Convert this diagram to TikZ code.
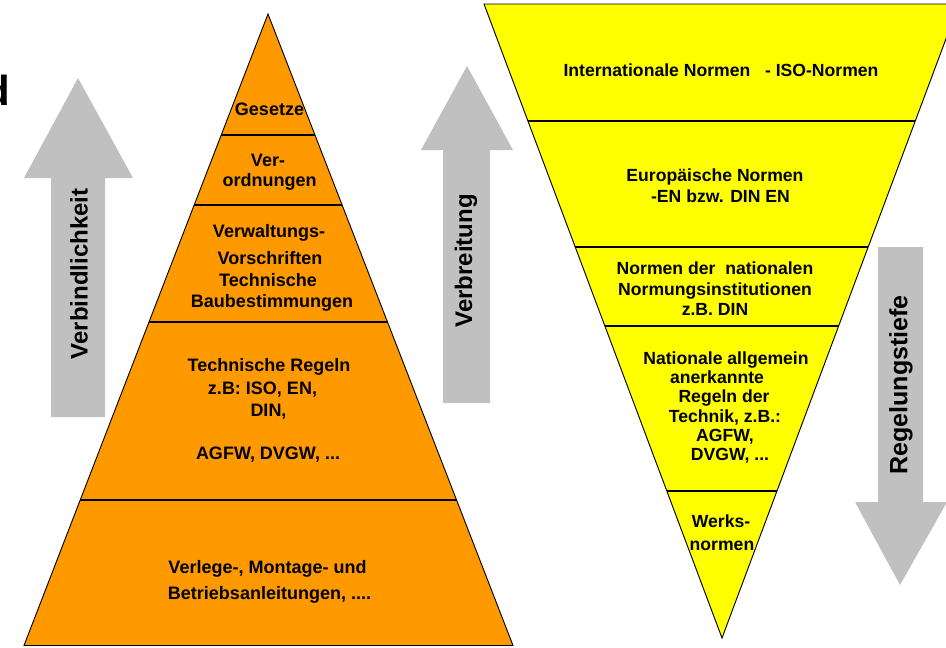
\documentclass[tikz,border=0pt]{standalone}
\usepackage{fontspec}
\setmainfont{Liberation Sans}
\usetikzlibrary{calc}
\definecolor{pyrorange}{HTML}{FF9900}
\definecolor{pyryellow}{HTML}{FFFF00}
\definecolor{arrowgray}{HTML}{C0C0C0}
\begin{document}
\begin{tikzpicture}[x=0.75pt,y=-0.75pt,
  lbl/.style={font=\fontsize{13.5}{15}\selectfont\bfseries, anchor=base, inner sep=0pt},
  rlbl/.style={font=\fontsize{13.2}{15}\selectfont\bfseries, anchor=base, inner sep=0pt},
  arrlbl/.style={font=\fontsize{18}{20}\selectfont\bfseries, rotate=90, inner sep=0pt},
  divline/.style={line width=1.6pt, draw=black},
  outline/.style={line width=0.7pt, draw=black},
  grayarrow/.style={fill=arrowgray, draw=none}]
\useasboundingbox (0,0) rectangle (946,647);
\clip (0,0) rectangle (946,647);

% cut-off letter at left edge
\node[font=\fontsize{31.5}{34}\selectfont\bfseries, anchor=base east, inner sep=0pt] (frag) at (10.5,105) {d};

% ---------- gray arrows ----------
\fill[grayarrow] (78,78) -- (133,178) -- (105,178) -- (105,417) -- (51,417) -- (51,178) -- (24,178) -- cycle;
\node[arrlbl] (verbind) at (79,274) {Verbindlichkeit};

\fill[grayarrow] (467,66) -- (513,150) -- (490,150) -- (490,403) -- (443,403) -- (443,150) -- (421,150) -- cycle;
\node[arrlbl] (verbreit) at (466,261) {Verbreitung};

\fill[grayarrow] (900,585) -- (947,502) -- (923,502) -- (923,247) -- (878,247) -- (878,502) -- (855,502) -- cycle;
\node[arrlbl, font=\fontsize{18.8}{20}\selectfont\bfseries] (regel) at (901,385) {Regelungstiefe};

% ---------- left pyramid ----------
\coordinate (apex) at (268,14);
\coordinate (bl) at (24,645.5);
\coordinate (br) at (513,645.5);
\path[fill=pyrorange, outline] (apex) -- (bl) -- (br) -- cycle;
\foreach \t in {0.19097,0.3027,0.4881,0.7702}{
  \draw[divline] ($(apex)!\t!(bl)$) -- ($(apex)!\t!(br)$);
}

\node[lbl] (gesetze) at (269.5,115) {Gesetze};
\node[lbl] (ver1) at (268,166) {Ver-};
\node[lbl] (ver2) at (269.5,186) {ordnungen};
\node[lbl] (vw1) at (269,237) {Verwaltungs-};
\node[lbl] (vw2) at (270,264) {Vorschriften};
\node[lbl] (vw3) at (268,286) {Technische};
\node[lbl] (vw4) at (272,307) {Baubestimmungen};
\node[lbl] (tr1) at (269,371) {Technische Regeln};
\node[lbl] (tr2) at (262.5,394) {z.B: ISO, EN,};
\node[lbl] (tr3) at (268.5,416) {DIN,};
\node[lbl] (tr4) at (268,459) {AGFW, DVGW, ...};
\node[lbl] (vl1) at (267.5,573) {Verlege-, Montage- und};
\node[lbl] (vl2) at (269.5,599) {Betriebsanleitungen, ....};

% ---------- right inverted triangle ----------
\coordinate (tl) at (484,4);
\coordinate (tr) at (959,4);
\coordinate (tip) at (722,638);
\path[fill=pyryellow, outline] (tl) -- (tr) -- (tip) -- cycle;
\foreach \t in {0.18454,0.38328,0.50789,0.76814}{
  \draw[divline] ($(tl)!\t!(tip)$) -- ($(tr)!\t!(tip)$);
}

\node[rlbl] (int) at (721,76) {Internationale Normen \ \ - ISO-Normen};
\node[rlbl] (eu1) at (715,181) {Europäische Normen};
\node[rlbl] (eu2) at (720.5,202) {-EN bzw. DIN EN};
\node[rlbl] (nn1) at (715,274) {Normen der \ nationalen};
\node[rlbl] (nn2) at (715,295) {Normungsinstitutionen};
\node[rlbl] (nn3) at (715,315) {z.B. DIN};
\node[rlbl] (na1) at (726,364) {Nationale allgemein};
\node[rlbl] (na2) at (717,383) {anerkannte};
\node[rlbl] (na3) at (724,402) {Regeln der};
\node[rlbl] (na4) at (725,422) {Technik, z.B.:};
\node[rlbl] (na5) at (725,441) {AGFW,};
\node[rlbl] (na6) at (730,460) {DVGW, ...};
\node[rlbl] (wn1) at (721,527) {Werks-};
\node[rlbl] (wn2) at (722,550) {normen};
\end{tikzpicture}
\end{document}
